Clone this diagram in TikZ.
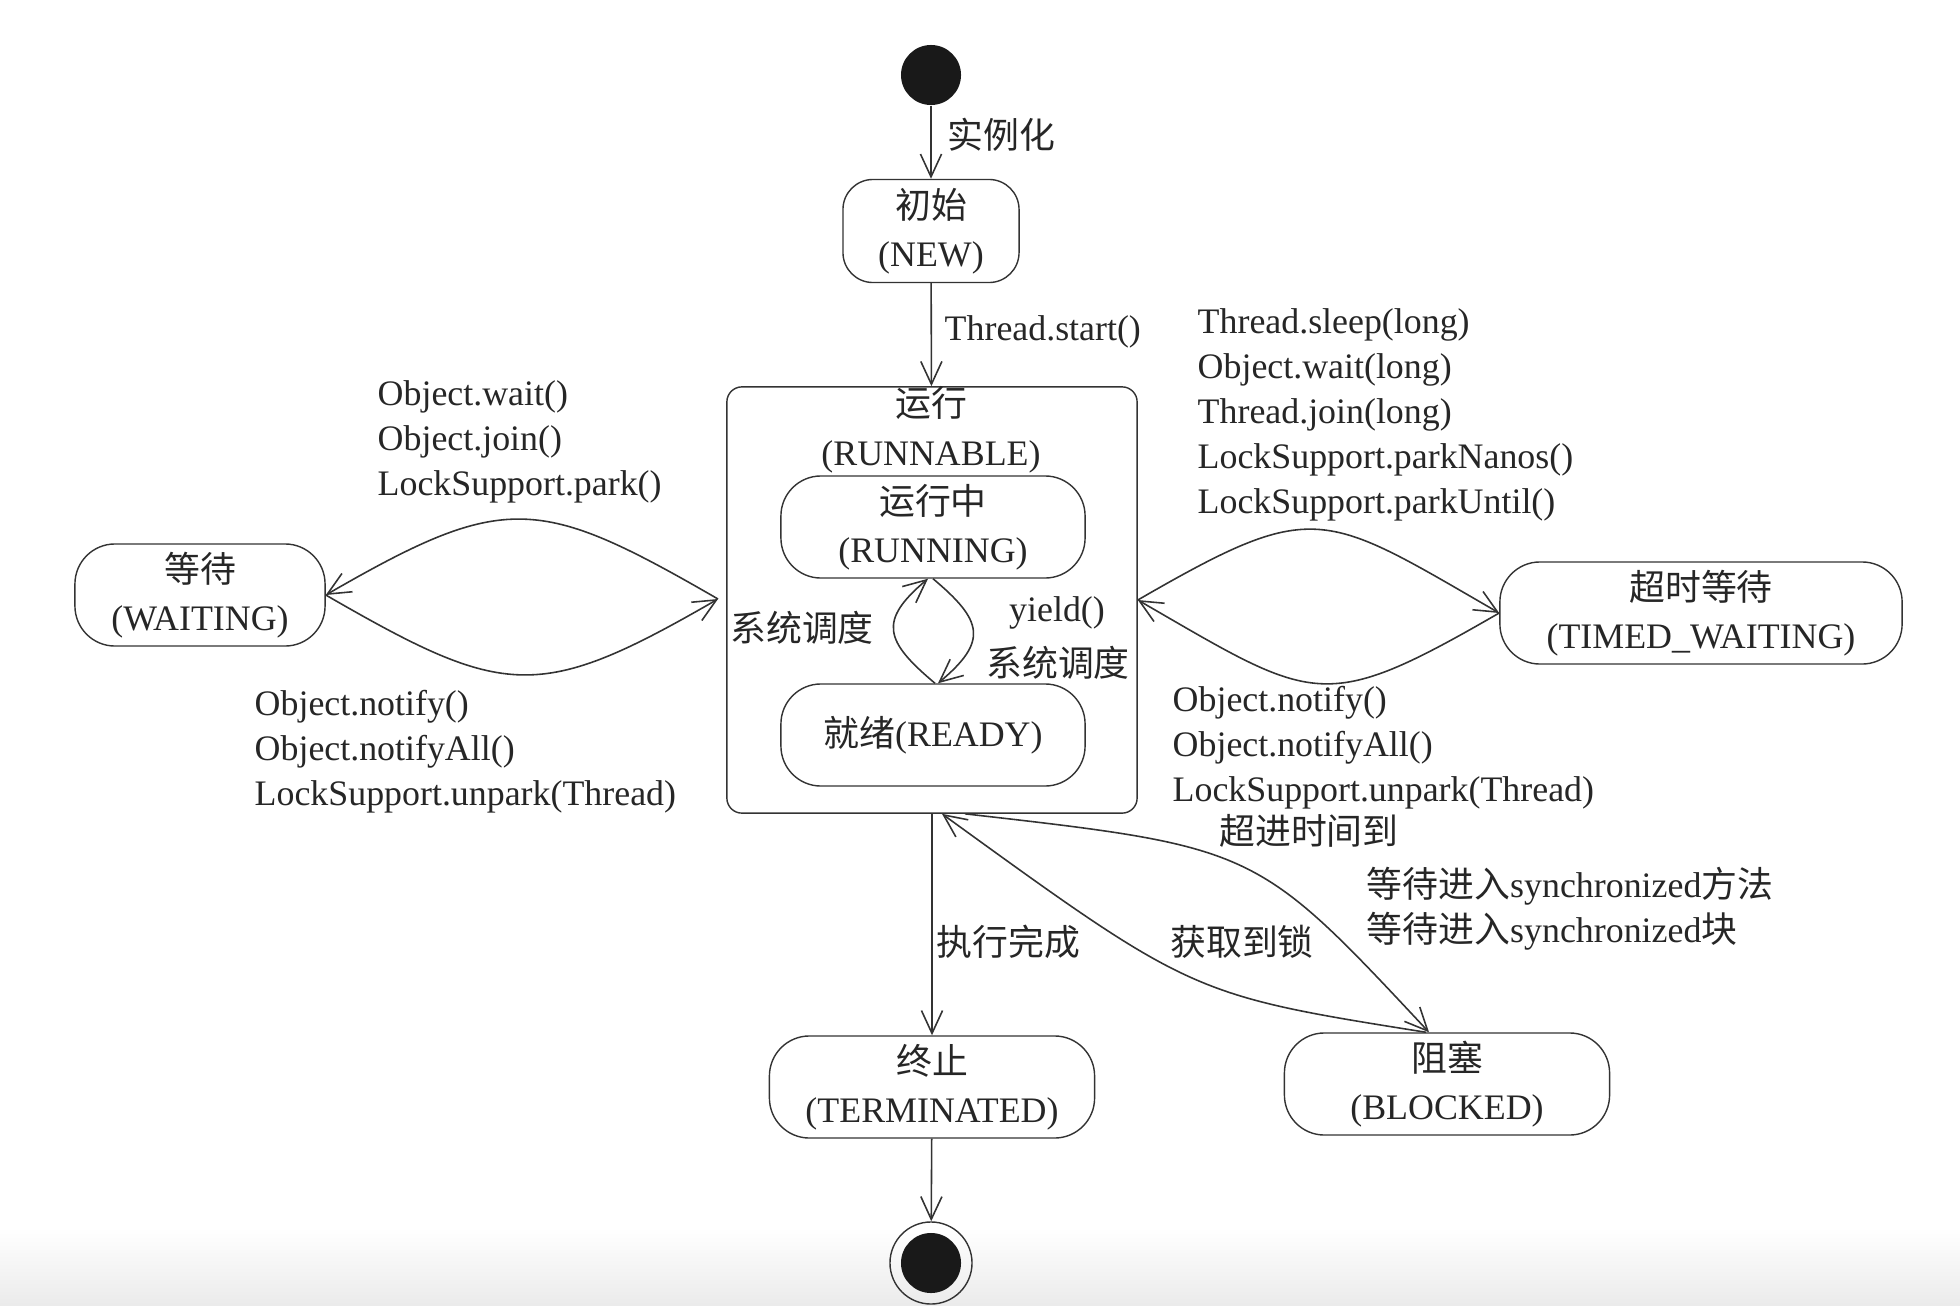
\documentclass[tikz,border=0pt]{standalone}
\usepackage{fontspec}
\setmainfont{Liberation Serif}
\newfontfamily\cjk{Noto Sans CJK SC}
\usetikzlibrary{arrows.meta}
\newcommand{\zh}[1]{{\cjk #1}}

\begin{document}
\begin{tikzpicture}[x=0.01cm,y=0.01cm,
  every node/.style={text=black!85},
  state/.style={draw=black!80,rounded corners=0.4cm,minimum height=1.02cm,align=center,inner sep=0pt,font=\fontsize{10.2}{13.7}\selectfont},
  lbl/.style={align=left,inner sep=0pt,font=\fontsize{10.2}{12.8}\selectfont},
  trans/.style={draw=black!80,line width=0.45pt,-{Straight Barb[length=6.5pt,width=6pt]}}]
\useasboundingbox (0,0) rectangle (1960,-1306);
\shade[top color=white,bottom color=black!8] (0,-1228) rectangle (1960,-1306);

% states
\node[circle,fill=black!90,minimum size=0.6cm,inner sep=0pt] (init) at (931,-75) {};
\node[state,minimum width=1.76cm,minimum height=1.03cm,rounded corners=0.3cm] (new) at (931,-231) {\zh{初始}\\(NEW)};
\node[draw=black!80,rounded corners=0.15cm,minimum width=4.1cm,minimum height=4.26cm] (runnable) at (932,-600) {};
\node[align=center,inner sep=0pt,font=\fontsize{10.2}{14}\selectfont] (runnabletitle) at (931,-430) {\zh{运行}\\(RUNNABLE)};
\node[state,minimum width=3.04cm] (running) at (933,-527) {\zh{运行中}\\(RUNNING)};
\node[state,minimum width=3.04cm] (ready) at (933,-735) {\zh{就绪}(READY)};
\node[state,minimum width=2.5cm] (waiting) at (200,-595) {\zh{等待}\\(WAITING)};
\node[state,minimum width=4.02cm] (timed) at (1701,-613) {\zh{超时等待}\\(TIMED\_WAITING)};
\node[state,minimum width=3.25cm] (terminated) at (932,-1087) {\zh{终止}\\(TERMINATED)};
\node[state,minimum width=3.25cm] (blocked) at (1447,-1084) {\zh{阻塞}\\(BLOCKED)};
\node[draw=black!80,circle,minimum size=0.82cm,inner sep=0pt] (final) at (931,-1263) {};
\fill[black!90] (final) circle (0.3cm);

% main line
\draw[trans] (init) -- (new);
\draw[trans] (new) -- (runnable);
\draw[trans] (runnable) -- (terminated);
\draw[trans] (terminated) -- (final);

% running <-> ready
\draw[trans] ([xshift=0.02cm]ready.north) to[out=140,in=-140,looseness=1.6] ([xshift=-0.05cm]running.south);
\draw[trans] (running.south) to[out=-40,in=40,looseness=1.6] ([xshift=0.05cm]ready.north);

% waiting and timed waiting
\coordinate (lensL) at (718,-599);
\draw[trans] (lensL) to[out=150,in=30,looseness=1.35] (waiting.east);
\draw[trans] (waiting.east) to[out=-30,in=-150,looseness=1.35] (lensL);
\draw[trans] (runnable.east) to[out=30,in=150,looseness=1.45] (timed.west);
\draw[trans] (timed.west) to[out=-150,in=-30,looseness=1.45] (runnable.east);

% blocked
\draw[trans] ([xshift=0.33cm]runnable.south) .. controls (1256,-847) .. ([xshift=-0.18cm]blocked.north);
\draw[trans] ([xshift=-0.21cm]blocked.north) .. controls (1192,-995) .. ([xshift=0.1cm]runnable.south);

% labels
\node[lbl,anchor=west] (lblinst) at (947,-135) {\zh{实例化}};
\node[lbl,anchor=west] (lblstart) at (944,-332) {Thread.start()};
\node[lbl,anchor=west] (lblwaitin) at (377,-442) {Object.wait()\\Object.join()\\LockSupport.park()};
\node[lbl,anchor=west] (lblwaitout) at (254,-752) {Object.notify()\\Object.notifyAll()\\LockSupport.unpark(Thread)};
\node[lbl,anchor=west] (lbltimedin) at (1197,-415) {Thread.sleep(long)\\Object.wait(long)\\Thread.join(long)\\LockSupport.parkNanos()\\LockSupport.parkUntil()};
\node[lbl,anchor=west] (lbltimedout) at (1172,-748) {Object.notify()\\Object.notifyAll()\\LockSupport.unpark(Thread)};
\node[lbl] (lbltimeout) at (1309,-831) {\zh{超进时间到}};
\node[lbl,anchor=west] (lblsync) at (1366,-909) {\zh{等待进入}synchronized\zh{方法}\\\zh{等待进入}synchronized\zh{块}};
\node[lbl] (lbllock) at (1242,-942) {\zh{获取到锁}};
\node[lbl,anchor=west] (lbldone) at (936,-942) {\zh{执行完成}};
\node[lbl] (lblsched) at (802,-628) {\zh{系统调度}};
\node[lbl] (lblyield) at (1057,-613) {yield()};
\node[lbl] (lblsched2) at (1058,-663) {\zh{系统调度}};
\end{tikzpicture}
\end{document}
